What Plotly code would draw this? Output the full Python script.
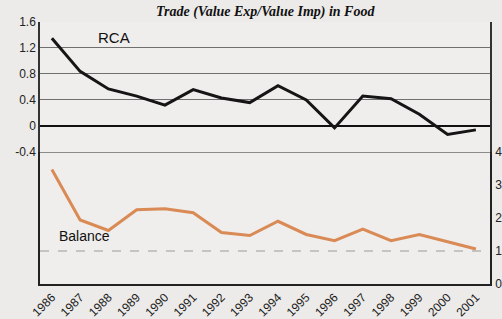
import plotly.graph_objects as go

years = list(range(1986, 2002))
rca = [1.35, 0.84, 0.57, 0.46, 0.32, 0.56, 0.43, 0.36, 0.62, 0.40, -0.03, 0.46, 0.42, 0.18, -0.13, -0.06]
balance = [3.47, 1.94, 1.62, 2.25, 2.28, 2.16, 1.56, 1.47, 1.90, 1.50, 1.31, 1.66, 1.31, 1.50, 1.28, 1.06]
rca_ticks = [-0.4, 0, 0.4, 0.8, 1.2, 1.6]
rca_tick_labels = ["-0.4", "0", "0.4", "0.8", "1.2", "1.6"]
bal_ticks = [0, 1, 2, 3, 4]
year_labels = [str(y) for y in years]
reference_level = 1

BG = "#ecebe9"

fig = go.Figure()
fig.add_trace(go.Scatter(x=years, y=rca, mode="lines", xaxis="x", yaxis="y",
                         line=dict(color="#151515", width=3), showlegend=False))
fig.add_trace(go.Scatter(x=years, y=balance, mode="lines", xaxis="x", yaxis="y2",
                         line=dict(color="#d98a55", width=3), showlegend=False))

fig.add_shape(type="line", xref="paper", x0=0, x1=1, yref="y2", y0=reference_level, y1=reference_level,
              line=dict(color="#9a9a9a", width=1.2, dash="dash"))
fig.add_shape(type="line", xref="paper", x0=0, x1=1, yref="y2", y0=4, y1=4,
              line=dict(color="#6a6a6a", width=1.5))

fig.add_annotation(text="RCA", xref="x", yref="y", x=1988.2, y=1.36, showarrow=False,
                   font=dict(family="Liberation Sans", size=15, color="#111"))
fig.add_annotation(text="Balance", xref="x", yref="y2", x=1987.15, y=1.45, showarrow=False,
                   font=dict(family="Liberation Sans", size=14, color="#111"))
fig.add_annotation(text="<b><i>Trade (Value Exp/Value Imp) in Food</i></b>", xref="paper", yref="paper",
                   x=0.5, y=1.04, showarrow=False, yanchor="middle",
                   font=dict(family="Liberation Serif", size=14, color="#111"))

fig.update_layout(
    width=502, height=319,
    margin=dict(l=40, r=12, t=22, b=35),
    paper_bgcolor=BG, plot_bgcolor="#efeeec",
    font=dict(family="Liberation Sans", color="#222"),
    xaxis=dict(range=[1985.58, 2001.5], anchor="y2", tickvals=years, ticktext=year_labels,
               tickangle=-45, showgrid=False, zeroline=False, showline=True, linecolor="#222",
               linewidth=1.5, tickfont=dict(size=12, color="#1a1a1a"), ticks="", automargin=False),
    yaxis=dict(domain=[0.504, 1], range=[-0.4, 1.6], tickvals=rca_ticks, ticktext=rca_tick_labels,
               showgrid=True, gridcolor="#6f6f6f", gridwidth=1.3, zeroline=True, zerolinecolor="#111",
               zerolinewidth=1.5, showline=True, mirror=True, linecolor="#333", linewidth=1.5,
               tickfont=dict(size=12, color="#222"), ticks="", automargin=False),
    yaxis2=dict(domain=[0, 0.504], range=[0, 4], tickvals=bal_ticks, side="right", anchor="x",
                showgrid=False, zeroline=False, showline=True, mirror=True, linecolor="#222",
                linewidth=1.5, tickfont=dict(size=12, color="#222"), ticks="",
                ticklabelstandoff=1, automargin=False),
)

fig.write_html("out.html", config={"displayModeBar": False},
               post_script="document.body.style.margin='0';document.body.style.background='%s';" % BG)
